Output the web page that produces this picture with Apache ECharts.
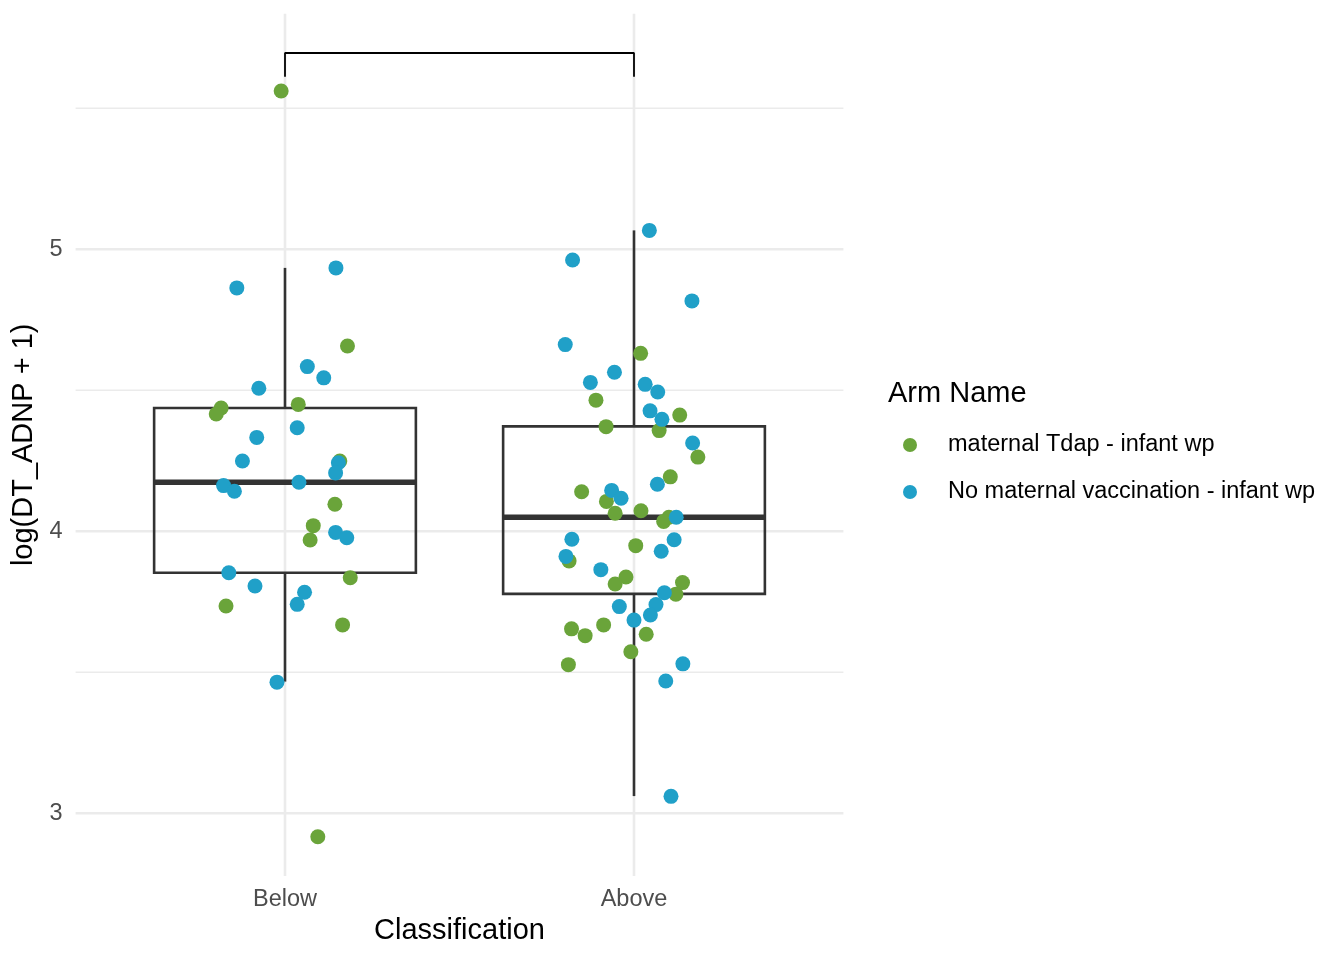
<!DOCTYPE html>
<html><head><meta charset="utf-8">
<script src="https://cdn.jsdelivr.net/npm/echarts@6/dist/echarts.min.js"></script>
<style>html,body{margin:0;padding:0;background:#fff}#c{width:1344px;height:960px}</style>
</head><body><div id="c"></div>
<script>
// ---- data ----
const categories = ['Below', 'Above'];
const armNames = ['maternal Tdap - infant wp', 'No maternal vaccination - infant wp'];
const yMajorTicks = [3, 4, 5];
const yMinorTicks = [3.5, 4.5, 5.5];
const xLimits = [0.4, 2.6];
const yLimits = [2.778, 5.835];

// box statistics: [lower whisker, Q1, median, Q3, upper whisker]
const boxBelow = [3.467, 3.853, 4.174, 4.437, 4.934];
const boxAbove = [3.061, 3.778, 4.050, 4.372, 5.067];

// significance bracket
const bracketTop = 5.696;
const bracketFoot = 5.612;

// jittered points (x: 1 = Below, 2 = Above)
const tdapBelowX = [0.989, 1.179, 1.038, 0.817, 0.803, 1.157, 1.143, 1.081, 1.072, 1.187, 0.831, 1.165, 1.094];
const tdapBelowY = [5.561, 4.657, 4.450, 4.437, 4.416, 4.249, 4.096, 4.020, 3.969, 3.835, 3.735, 3.668, 2.917];
const noVacBelowX = [0.862, 1.146, 1.064, 1.111, 0.925, 1.035, 0.919, 0.878, 1.153, 1.145, 1.040, 0.824, 0.855, 1.145, 1.177, 0.839, 0.914, 1.056, 1.035, 0.977];
const noVacBelowY = [4.863, 4.934, 4.584, 4.544, 4.507, 4.367, 4.333, 4.249, 4.243, 4.207, 4.174, 4.162, 4.142, 3.996, 3.977, 3.853, 3.806, 3.784, 3.741, 3.465];
const tdapAboveX = [2.019, 1.891, 2.131, 1.920, 2.072, 2.183, 2.104, 1.850, 1.921, 2.020, 1.946, 2.100, 2.085, 2.005, 1.814, 1.977, 1.946, 2.139, 2.120, 1.913, 1.821, 1.860, 2.035, 1.991, 1.812];
const tdapAboveY = [4.631, 4.465, 4.412, 4.371, 4.357, 4.263, 4.193, 4.140, 4.106, 4.073, 4.064, 4.050, 4.035, 3.949, 3.895, 3.838, 3.813, 3.818, 3.777, 3.668, 3.654, 3.630, 3.635, 3.573, 3.527];
const noVacAboveX = [2.044, 1.824, 2.166, 1.803, 1.944, 1.875, 2.032, 2.068, 2.046, 2.080, 2.168, 2.067, 1.936, 1.963, 2.121, 1.822, 2.115, 2.078, 1.805, 1.905, 2.087, 2.063, 1.958, 2.047, 2.000, 2.140, 2.091, 2.106];
const noVacAboveY = [5.067, 4.962, 4.817, 4.662, 4.564, 4.528, 4.521, 4.494, 4.427, 4.397, 4.313, 4.167, 4.145, 4.117, 4.050, 3.972, 3.970, 3.929, 3.911, 3.864, 3.782, 3.740, 3.733, 3.703, 3.685, 3.530, 3.469, 3.060];

// ---- build ----
const FONT = 'Liberation Sans, Arial, Helvetica, sans-serif';
const GREEN = '#6aa43a';
const BLUE = '#20a0c8';
const zip = (xs, ys) => xs.map((x, i) => [x, ys[i]]);
const tdapPts = zip(tdapBelowX, tdapBelowY).concat(zip(tdapAboveX, tdapAboveY));
const noVacPts = zip(noVacBelowX, noVacBelowY).concat(zip(noVacAboveX, noVacAboveY));
const boxData = [[1].concat(boxBelow), [2].concat(boxAbove)];

function hLine(width) {
  return function (params, api) {
    const v = api.value(0);
    const a = api.coord([xLimits[0], v]);
    const b = api.coord([xLimits[1], v]);
    return { type: 'line', shape: { x1: a[0], y1: a[1], x2: b[0], y2: b[1] },
      style: { stroke: '#ebebeb', lineWidth: width } };
  };
}
function vLine(params, api) {
  const v = api.value(0);
  const a = api.coord([v, yLimits[0]]);
  const b = api.coord([v, yLimits[1]]);
  return { type: 'line', shape: { x1: a[0], y1: a[1], x2: b[0], y2: b[1] },
    style: { stroke: '#ebebeb', lineWidth: 2.6 } };
}
function boxRender(params, api) {
  const x = api.value(0);
  const lo = api.coord([x, api.value(1)]);
  const q1 = api.coord([x, api.value(2)]);
  const med = api.coord([x, api.value(3)]);
  const q3 = api.coord([x, api.value(4)]);
  const hi = api.coord([x, api.value(5)]);
  const w = api.size([0.75, 0])[0];
  const c = '#333333';
  return { type: 'group', children: [
    { type: 'line', shape: { x1: hi[0], y1: hi[1], x2: q3[0], y2: q3[1] }, style: { stroke: c, lineWidth: 2.6 } },
    { type: 'line', shape: { x1: q1[0], y1: q1[1], x2: lo[0], y2: lo[1] }, style: { stroke: c, lineWidth: 2.6 } },
    { type: 'rect', shape: { x: q3[0] - w / 2, y: q3[1], width: w, height: q1[1] - q3[1] }, style: { fill: 'none', stroke: c, lineWidth: 2.6 } },
    { type: 'line', shape: { x1: med[0] - w / 2, y1: med[1], x2: med[0] + w / 2, y2: med[1] }, style: { stroke: c, lineWidth: 5.4 } }
  ]};
}

const chart = echarts.init(document.getElementById('c'), null, { renderer: 'canvas' });
chart.setOption({
  backgroundColor: '#ffffff',
  animation: false,
  textStyle: { fontFamily: FONT },
  title: {
    text: 'Arm Name', left: 888, top: 379, padding: 0,
    textStyle: { fontSize: 29, fontWeight: 'normal', color: '#000', fontFamily: FONT }
  },
  legend: {
    data: armNames, orient: 'vertical', left: 903, top: 433, padding: 0,
    icon: 'circle', itemWidth: 14, itemHeight: 14, itemGap: 23,
    textStyle: { fontSize: 23.5, color: '#000', fontFamily: FONT, lineHeight: 24, padding: [0, 0, 0, 26] }
  },
  grid: { left: 75.6, right: 500.6, top: 13.8, bottom: 84.1, containLabel: false },
  xAxis: {
    type: 'value', min: xLimits[0], max: xLimits[1],
    name: 'Classification', nameLocation: 'middle', nameGap: 38,
    nameTextStyle: { fontSize: 29, color: '#000', fontFamily: FONT },
    axisLine: { show: false }, axisTick: { show: false }, splitLine: { show: false },
    axisLabel: {
      customValues: [1, 2], margin: 12, fontSize: 23.5, color: '#4d4d4d', fontFamily: FONT,
      formatter: v => categories[Math.round(v) - 1] || ''
    }
  },
  yAxis: {
    type: 'value', min: yLimits[0], max: yLimits[1],
    name: 'log(DT_ADNP + 1)', nameLocation: 'middle', nameGap: 30,
    nameTextStyle: { fontSize: 29, color: '#000', fontFamily: FONT },
    axisLine: { show: false }, axisTick: { show: false }, splitLine: { show: false },
    axisLabel: {
      customValues: yMajorTicks, margin: 13, fontSize: 23.5, color: '#4d4d4d', fontFamily: FONT,
      formatter: v => String(v)
    }
  },
  series: [
    { type: 'custom', name: 'gridMinor', silent: true, z: 0, renderItem: hLine(1.4), data: yMinorTicks.map(v => [v]) },
    { type: 'custom', name: 'gridMajor', silent: true, z: 0, renderItem: hLine(2.6), data: yMajorTicks.map(v => [v]) },
    { type: 'custom', name: 'gridX', silent: true, z: 0, renderItem: vLine, data: [[1], [2]] },
    { type: 'custom', name: 'box', silent: true, z: 1, renderItem: boxRender, data: boxData },
    { type: 'line', name: 'bracket', silent: true, z: 1, symbol: 'none',
      lineStyle: { color: '#000', width: 1.8 },
      data: [[1, bracketFoot], [1, bracketTop], [2, bracketTop], [2, bracketFoot]] },
    { type: 'scatter', name: armNames[0], z: 3, symbolSize: 15, itemStyle: { color: GREEN, opacity: 1 }, data: tdapPts },
    { type: 'scatter', name: armNames[1], z: 4, symbolSize: 15, itemStyle: { color: BLUE, opacity: 1 }, data: noVacPts }
  ]
});
</script>
</body></html>
